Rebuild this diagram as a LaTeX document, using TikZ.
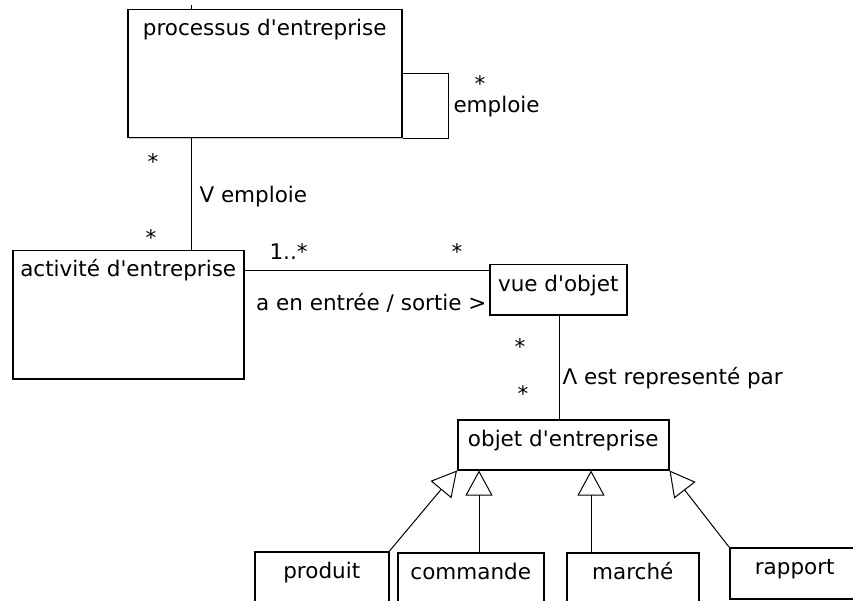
\documentclass[tikz,border=0pt]{standalone}
\usepackage{fontspec}
\setmainfont{DejaVu Sans}
\usetikzlibrary{arrows.meta,shadows}

\tikzset{
  cls/.style={draw, line width=1.5pt, fill=white, anchor=north west, inner sep=0pt,
    drop shadow={shadow xshift=1.5pt, shadow yshift=-1.5pt, opacity=0.35, fill=black!60}},
  ttl/.style={anchor=base, inner sep=0pt, yshift=-27pt},
  lbl/.style={anchor=base west, inner sep=0pt},
  mult/.style={anchor=base, inner sep=0pt},
  gen/.style={-{Triangle[open, length=25pt, width=27pt]}, line width=1pt},
}
\newcommand{\ap}{\textquotesingle}

\begin{document}
\begin{tikzpicture}[x=1pt, y=-1pt, font=\fontsize{21.5}{26}\selectfont, line width=1pt]
  \useasboundingbox (0,0) rectangle (853,601);
  \clip (0,0) rectangle (853,601);

  % classes
  \node[cls, minimum width=274pt, minimum height=128pt,
        label={[ttl]north:processus d\ap entreprise}] (proc) at (127,9) {};
  \node[cls, minimum width=231pt, minimum height=128pt,
        label={[ttl]north:activité d\ap entreprise}] (act) at (12,250) {};
  \node[cls, minimum width=137pt, minimum height=50pt,
        label={[ttl]north:vue d\ap objet}] (vue) at (489,264) {};
  \node[cls, minimum width=211pt, minimum height=50pt,
        label={[ttl]north:objet d\ap entreprise}] (objet) at (457,419) {};
  \node[cls, minimum width=134pt, minimum height=52pt,
        label={[ttl]north:produit}] (prod) at (254,551) {};
  \node[cls, minimum width=146pt, minimum height=52pt,
        label={[ttl]north:commande}] (cmd) at (397,552) {};
  \node[cls, minimum width=132pt, minimum height=52pt,
        label={[ttl]north:marché}] (mch) at (566,552) {};
  \node[cls, minimum width=130pt, minimum height=51pt,
        label={[ttl]north:rapport}] (rap) at (729,547) {};

  % associations
  \coordinate (empx) at (191,0);
  \coordinate (ioy) at (0,271);
  \coordinate (repx) at (559,0);
  \draw (proc.north -| empx) -- ++(0,-4);
  \draw (proc.east) -- ++(46,0) |- (proc.south east);
  \draw (proc.south -| empx) -- (act.north -| empx);
  \draw (act.east |- ioy) -- (vue.west |- ioy);
  \draw (vue.south -| repx) -- (objet.north -| repx);

  % generalisations
  \coordinate (cmdx) at (479,0);
  \coordinate (mchx) at (591,0);
  \draw[gen] (prod.north east) -- (objet.south west);
  \draw[gen] (cmd.north -| cmdx) -- (objet.south -| cmdx);
  \draw[gen] (mch.north -| mchx) -- (objet.south -| mchx);
  \draw[gen] (rap.north west) -- (objet.south east);

  % roles and multiplicities
  \node[mult] (m1) at (480,92) {*};
  \node[lbl] (l1) at (453,113) {emploie};
  \node[mult] (m2) at (153,170) {*};
  \node[mult] (m3) at (151,246) {*};
  \node[lbl] (l2) at (199,203) {V emploie};
  \node[lbl] (m4) at (269,260) {1..*};
  \node[mult] (m5) at (457,260) {*};
  \node[anchor=base east, inner sep=0pt] (l3) at (487,310) {a en entrée / sortie >};
  \node[mult] (m6) at (520,354) {*};
  \node[mult] (m7) at (523,401) {*};
  \node[lbl] (l4) at (562,384) {Λ est representé par};
\end{tikzpicture}
\end{document}
